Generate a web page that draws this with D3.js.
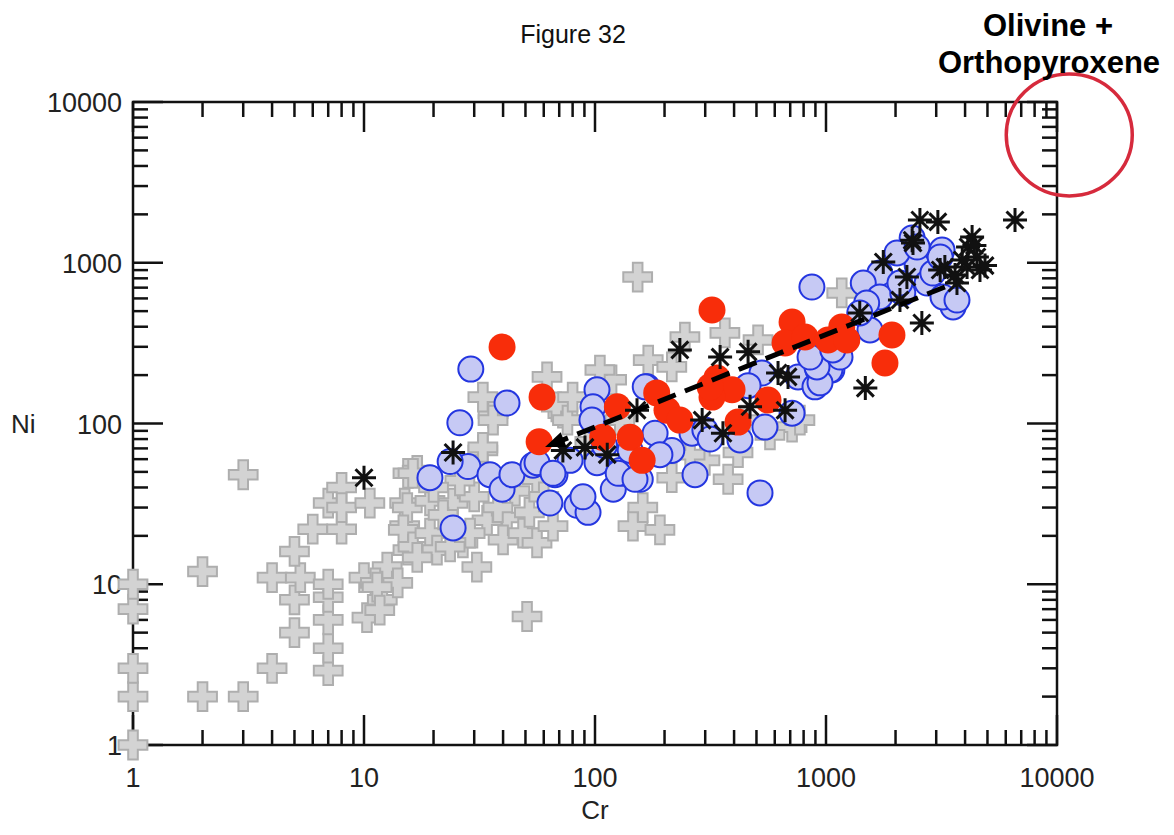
<!DOCTYPE html>
<html>
<head>
  <meta charset="utf-8">
  <title>Figure 32</title>
  <script src="https://d3js.org/d3.v7.min.js"></script>
  <style>
    body {
      margin: 0;
      background: #fff;
    }
    svg {
      display: block;
      font-family: Arial, "Liberation Sans", Helvetica, sans-serif;
    }
  </style>
</head>
<body>
  <div id="chart"></div>

  <script>
    // tick labels of both log axes
    var decades = [1, 10, 100, 1000, 10000];

    // [Cr, Ni] pairs
    var grayCrosses = [
      [1,1],[1,2],[1,3],[1,7],[1,10],[2,2],[3,2],[2,12],[3,48],[4,3],[4,11],[5,5],[5,8],[5.3,11],[5,16],
      [6,22],[7,2.9],[7,4],[7,6],[7,8.3],[7,10],[7,32],[8,40],[8,22],[8,30],[10.3,6.2],[10,11],[10.6,32],
      [12.6,12.8],[11.2,10.2],[12,8],[14,10.2],[15,32],[15,23],[15.5,16.3],[15.5,49],
      [17,51],[15.4,30],[14.8,21.8],[16.3,17.1],[11.4,9.6],[11.7,6.9],[19.3,33],[19.3,20.8],[20.7,16.3],
      [24.3,32],[26.8,18.1],[30.8,12.8],[32.7,68],[36.2,116],[34.1,25],[41.6,26],[40,18.9],[48.8,20.8],
      [56.1,18.1],[65.8,23],[56.1,45],[50.8,6.3],[72.6,116],[146,23],[161,30],[23.6,17.1],[28.8,20.8],
      [32.7,146],[36.2,105],[62,195],[68,127],[76,105],[32.7,71],[16.3,49],[17,14.7],
      [22,27],[30,35],[45,38],[38,30],[52,28],[60,35],[26,44],[20,40],
      [153,815],[1170,649],[245,345],[365,366],[170,248],[215,225],[508,331],[377,45],[713,95],[215,46],
      [416,66],[299,59],[118,187],[191,21.8],[258,64],[105,215],[771,105],[572,85],[128,105],[95,77],
      [446,105],[80,146]
    ];

    var blueCircles = [
      [26,101],[19.3,46],[24.3,22.4],[28.2,54],[35.1,48],[39.6,39],[43.7,48],[53.9,55],[63.8,32],[67.1,48],
      [83.6,31],[93.3,28],[88.7,35],[78,59],[120,39],[132,49],[102,57],[157,45],[23.6,58],[41.6,134],
      [102,162],[98,127],[97,105],[29,218],[56.1,57],[65.8,49],[271,48],[168,169],[215,68],[128,51],
      [869,706],[528,206],[757,195],[923,215],[1060,215],[896,169],[544,95],[713,116],[518,37],[126,49],
      [149,45],[182,87],[263,87],[299,91],[165,169],
      [2360,1426],[3180,1200],[2480,968],[2030,1150],[1710,863],[1450,748],[1710,613],[2150,649],[2740,748],
      [3550,531],[3210,613],[2900,863],[1500,562],[1550,382],[1040,215],[1150,259],[942,179],[914,225],
      [460,172],[424,79],[315,80],[1400,487],[853,259],[1070,287],[2090,748],[3120,1086],[2480,1253],
      [3690,586],[110,73],[142,68],[191,64]
    ];

    var redCircles = [
      [39.6,299],[59,146],[57.3,77],[321,508],[125,127],[185,155],[205,121],[233,105],[108,82],[142,82],
      [160,59],[337,192],[392,162],[321,146],[561,140],[416,102],[713,428],[665,317],[811,345],[1020,331],
      [1170,398],[1230,331],[1930,355],[1800,238],[315,169]
    ];

    var stars = [
      [10,46],[24.3,66],[72.6,68],[90.5,71],[113,64],[233,287],[348,259],[460,279],[152,121],[291,105],
      [358,87],[469,127],[620,206],[685,195],[665,121],[2550,1845],[3050,1795],[6580,1845],[4290,1447],
      [4120,1253],[4500,1086],[4080,941],[4640,901],[3690,748],[3270,941],[2380,1327],[1770,1011],
      [2240,815],[2090,586],[2600,422],[1400,487],[1480,166],[4390,1280],[3890,1040],[4880,960],
      [3620,840],[3120,901],[2360,1380]
    ];

    // dashed trend arrow (tail, head) and the highlighted corner
    var arrowFrom = [3270, 707],
        arrowTo = [60.8, 71.4];
    var highlight = [11300, 6240];

    var width = 1174,
        height = 835;

    var svg = d3.select("#chart")
      .append("svg")
        .attr("width", width)
        .attr("height", height);

    var x = d3.scaleLog().domain([1, 10000]).range([133, 1057]);
    var y = d3.scaleLog().domain([1, 10000]).range([745, 102]);

    var x0 = x.range()[0], x1 = x.range()[1],
        y0 = y.range()[0], y1 = y.range()[1];

    // ticks on all four sides, pointing inward
    var ticks = x.ticks();
    function isMajor(v) { return Math.abs(Math.log10(v) - Math.round(Math.log10(v))) < 1e-9; }
    function len(v) { return isMajor(v) ? 30 : 15; }

    var tickG = svg.append("g")
      .attr("stroke", "#111")
      .attr("stroke-width", 2.5);

    tickG.selectAll(".tb").data(ticks).enter().append("line")
      .attr("x1", function(d) { return x(d); }).attr("x2", function(d) { return x(d); })
      .attr("y1", y0).attr("y2", function(d) { return y0 - len(d); });
    tickG.selectAll(".tt").data(ticks).enter().append("line")
      .attr("x1", function(d) { return x(d); }).attr("x2", function(d) { return x(d); })
      .attr("y1", y1).attr("y2", function(d) { return y1 + len(d); });
    tickG.selectAll(".tl").data(ticks).enter().append("line")
      .attr("y1", function(d) { return y(d); }).attr("y2", function(d) { return y(d); })
      .attr("x1", x0).attr("x2", function(d) { return x0 + len(d); });
    tickG.selectAll(".tr").data(ticks).enter().append("line")
      .attr("y1", function(d) { return y(d); }).attr("y2", function(d) { return y(d); })
      .attr("x1", x1).attr("x2", function(d) { return x1 - len(d); });

    // frame
    svg.append("rect")
      .attr("x", x0).attr("y", y1)
      .attr("width", x1 - x0).attr("height", y0 - y1)
      .style("fill", "none")
      .style("stroke", "#111")
      .style("stroke-width", 2.5);

    // tick labels
    svg.append("g").selectAll("text").data(decades).enter().append("text")
      .attr("x", function(d) { return x(d); })
      .attr("y", y0 + 42)
      .attr("text-anchor", "middle")
      .style("font-size", "27px")
      .style("fill", "#222")
      .text(function(d) { return d; });

    svg.append("g").selectAll("text").data(decades).enter().append("text")
      .attr("x", x0 - 11)
      .attr("y", function(d) { return y(d) + 10; })
      .attr("text-anchor", "end")
      .style("font-size", "27px")
      .style("fill", "#222")
      .text(function(d) { return d; });

    // axis titles
    svg.append("text")
      .attr("x", (x0 + x1) / 2).attr("y", 819)
      .attr("text-anchor", "middle")
      .style("font-size", "26px").style("fill", "#222")
      .text("Cr");
    svg.append("text")
      .attr("x", 11).attr("y", y(100) + 9)
      .style("font-size", "26px").style("fill", "#222")
      .text("Ni");

    // markers
    var cross = d3.symbol().type(d3.symbolCross).size(460);
    svg.append("g").selectAll("path").data(grayCrosses).enter().append("path")
      .attr("d", cross)
      .attr("transform", function(d) { return "translate(" + x(d[0]) + "," + y(d[1]) + ")"; })
      .style("fill", "#d3d3d3")
      .style("stroke", "#aeaeae")
      .style("stroke-width", 2);

    svg.append("g").selectAll("circle").data(blueCircles).enter().append("circle")
      .attr("cx", function(d) { return x(d[0]); })
      .attr("cy", function(d) { return y(d[1]); })
      .attr("r", 12.5)
      .style("fill", "#c6c9f4")
      .style("stroke", "#2436e0")
      .style("stroke-width", 2);

    svg.append("g").selectAll("circle").data(redCircles).enter().append("circle")
      .attr("cx", function(d) { return x(d[0]); })
      .attr("cy", function(d) { return y(d[1]); })
      .attr("r", 13.5)
      .style("fill", "#f82d0a");

    var r = 12, a = r * 0.7071;
    var starPath = "M0," + (-r) + "V" + r + "M" + (-r) + ",0H" + r +
      "M" + (-a) + "," + (-a) + "L" + a + "," + a + "M" + (-a) + "," + a + "L" + a + "," + (-a);
    svg.append("g").selectAll("path").data(stars).enter().append("path")
      .attr("d", starPath)
      .attr("transform", function(d) { return "translate(" + x(d[0]) + "," + y(d[1]) + ")"; })
      .style("fill", "none")
      .style("stroke", "#111")
      .style("stroke-width", 3);

    // dashed arrow, head at the low-Cr end
    var tx = x(arrowFrom[0]), ty = y(arrowFrom[1]),
        hx = x(arrowTo[0]), hy = y(arrowTo[1]);
    var L = Math.hypot(hx - tx, hy - ty), ux = (hx - tx) / L, uy = (hy - ty) / L;
    var headLen = 20, headW = 8;
    var bx = hx - ux * headLen, by = hy - uy * headLen;
    svg.append("line")
      .attr("x1", tx).attr("y1", ty)
      .attr("x2", bx + ux * 4).attr("y2", by + uy * 4)
      .style("stroke", "#000")
      .style("stroke-width", 5)
      .style("stroke-dasharray", "19,10");
    svg.append("path")
      .attr("d", "M" + hx + "," + hy +
        "L" + (bx - uy * headW) + "," + (by + ux * headW) +
        "L" + (bx + uy * headW) + "," + (by - ux * headW) + "Z")
      .style("fill", "#000");

    // highlighted corner
    svg.append("ellipse")
      .attr("cx", x(highlight[0])).attr("cy", y(highlight[1]))
      .attr("rx", 63).attr("ry", 61)
      .style("fill", "none")
      .style("stroke", "#d62a3c")
      .style("stroke-width", 3.5);

    // titles
    svg.append("text")
      .attr("x", 573).attr("y", 43)
      .attr("text-anchor", "middle")
      .style("font-size", "25px").style("fill", "#111")
      .text("Figure 32");
    svg.append("text")
      .attr("x", 1048).attr("y", 36)
      .attr("text-anchor", "middle")
      .style("font-size", "31px").style("font-weight", "bold").style("fill", "#000")
      .text("Olivine +");
    svg.append("text")
      .attr("x", 1049).attr("y", 73)
      .attr("text-anchor", "middle")
      .style("font-size", "31px").style("font-weight", "bold").style("fill", "#000")
      .text("Orthopyroxene");
  </script>
</body>
</html>
